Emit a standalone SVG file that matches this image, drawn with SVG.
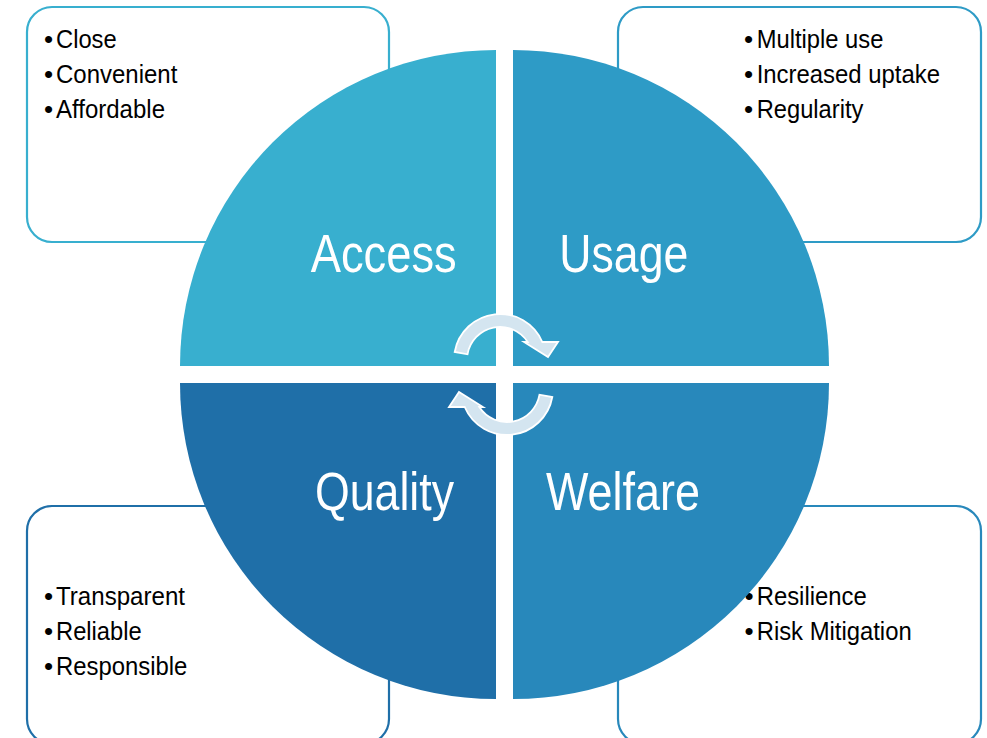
<svg xmlns="http://www.w3.org/2000/svg" width="987" height="738" viewBox="0 0 987 738">
<style>
.box{fill:#ffffff;stroke-width:2.2}
.bt{font-family:"Liberation Sans",Arial,sans-serif;font-size:26px;fill:#000000}
.lbl{font-family:"Liberation Sans",Arial,sans-serif;font-size:54px;fill:#ffffff}
.arr{fill:#D4E5F0;stroke:#ffffff;stroke-width:1.8;stroke-linejoin:miter}
</style>
<rect width="987" height="738" fill="#ffffff"/>
<g id="box-access">
<rect class="box" x="27" y="7" width="362" height="235" rx="25" stroke="#38AFCF"/>
<text class="bt" x="44" y="47.7">•</text><text class="bt" x="56" y="47.7" textLength="60.7" lengthAdjust="spacingAndGlyphs">Close</text>
<text class="bt" x="44" y="82.7">•</text><text class="bt" x="56" y="82.7" textLength="121.3" lengthAdjust="spacingAndGlyphs">Convenient</text>
<text class="bt" x="44" y="118">•</text><text class="bt" x="56" y="118" textLength="109" lengthAdjust="spacingAndGlyphs">Affordable</text>
</g>
<g id="box-usage">
<rect class="box" x="618" y="7" width="363" height="235" rx="25" stroke="#2E9BC6"/>
<text class="bt" x="744" y="47.7">•</text><text class="bt" x="756.7" y="47.7" textLength="126.7" lengthAdjust="spacingAndGlyphs">Multiple use</text>
<text class="bt" x="744" y="82.7">•</text><text class="bt" x="756.7" y="82.7" textLength="183.3" lengthAdjust="spacingAndGlyphs">Increased uptake</text>
<text class="bt" x="744" y="118">•</text><text class="bt" x="756.7" y="118" textLength="106.7" lengthAdjust="spacingAndGlyphs">Regularity</text>
</g>
<g id="box-quality">
<rect class="box" x="27" y="506" width="362" height="238" rx="25" stroke="#1F6FA8"/>
<text class="bt" x="44" y="605">•</text><text class="bt" x="56" y="605" textLength="129" lengthAdjust="spacingAndGlyphs">Transparent</text>
<text class="bt" x="44" y="640">•</text><text class="bt" x="56" y="640" textLength="85.7" lengthAdjust="spacingAndGlyphs">Reliable</text>
<text class="bt" x="44" y="675">•</text><text class="bt" x="56" y="675" textLength="131.3" lengthAdjust="spacingAndGlyphs">Responsible</text>
</g>
<g id="box-welfare">
<rect class="box" x="618" y="506" width="363" height="238" rx="25" stroke="#2888BB"/>
<text class="bt" x="744.5" y="605">•</text><text class="bt" x="756.7" y="605" textLength="110" lengthAdjust="spacingAndGlyphs">Resilience</text>
<text class="bt" x="744.5" y="640">•</text><text class="bt" x="756.7" y="640" textLength="155" lengthAdjust="spacingAndGlyphs">Risk Mitigation</text>
</g>
<g id="access">
<path d="M496,366 H180 A316,316 0 0 1 496,50 Z" fill="#38AFCF"/>
<text class="lbl" x="310.7" y="271.7" textLength="146" lengthAdjust="spacingAndGlyphs">Access</text>
</g>
<g id="usage">
<path d="M513,366 V50 A316,316 0 0 1 829,366 Z" fill="#2E9BC6"/>
<text class="lbl" x="559.3" y="271.7" textLength="129" lengthAdjust="spacingAndGlyphs">Usage</text>
</g>
<g id="quality">
<path d="M496,383 V699 A316,316 0 0 1 180,383 Z" fill="#1F6FA8"/>
<text class="lbl" x="315" y="510" textLength="139" lengthAdjust="spacingAndGlyphs">Quality</text>
</g>
<g id="welfare">
<path d="M513,383 H829 A316,316 0 0 1 513,699 Z" fill="#2888BB"/>
<text class="lbl" x="546" y="510" textLength="154" lengthAdjust="spacingAndGlyphs">Welfare</text>
</g>
<g id="connectors">
<path id="arrow-top" class="arr" d="M454.7,352 A46,46 0 0 1 542.3,342 L558,342 L548,357 L524,342 L527.7,342 A33,33 0 0 0 467.5,354.3 Z"/>
<path id="arrow-bottom" class="arr" transform="rotate(180 503.5 374.5)" d="M454.7,352 A46,46 0 0 1 542.3,342 L558,342 L548,357 L524,342 L527.7,342 A33,33 0 0 0 467.5,354.3 Z"/>
</g>
</svg>
